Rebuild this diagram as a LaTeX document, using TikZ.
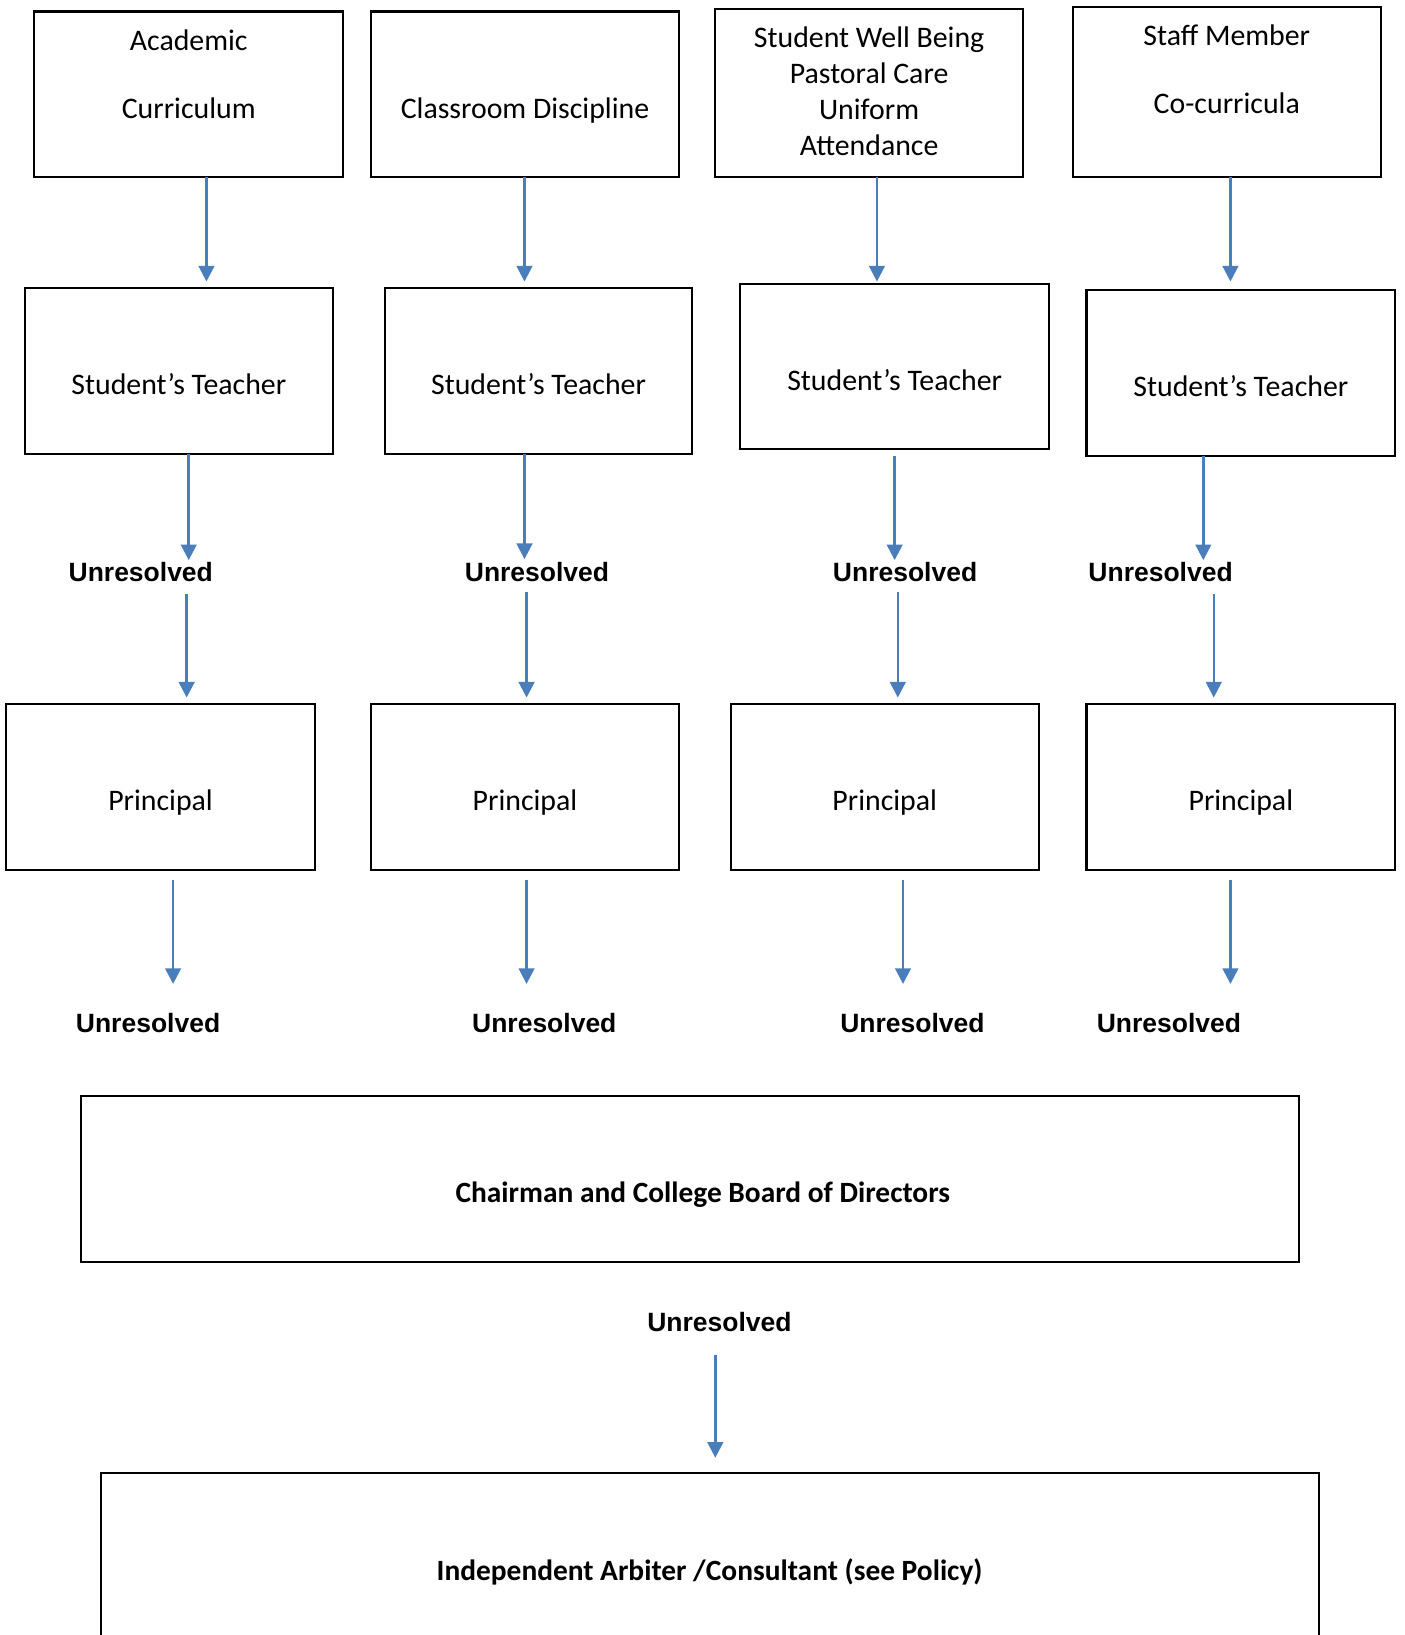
\documentclass[tikz,border=0pt]{standalone}
\usepackage{fontspec}
\setmainfont{Carlito}
\newfontfamily\arialfont{Liberation Sans}
\usetikzlibrary{arrows.meta}
\definecolor{arrowblue}{RGB}{74,126,187}
\newcommand\boxat[5]{\node[box, minimum width={(#4-#2)*0.5pt}, minimum height={(#5-#3)*0.5pt}] (#1) at ({(#2+#4)/2},{(#3+#5)/2}) {};}
\begin{document}
\begin{tikzpicture}[x=0.5pt,y=-0.5pt,
  box/.style={draw=black, line width=1pt, rectangle, inner sep=0pt, outer sep=0pt},
  txt/.style={font=\fontsize{14.3}{17}\selectfont, anchor=base, inner sep=0pt},
  btxt/.style={font=\fontsize{14.1}{17}\selectfont\bfseries, anchor=base, inner sep=0pt},
  unres/.style={font=\arialfont\bfseries\fontsize{12.7}{15}\selectfont, anchor=base, inner sep=0pt, text height=9pt, text depth=0pt},
  arr/.style={draw=arrowblue, line width=1.2pt, -{Triangle[width=7.5pt,length=7.5pt]}}]
\useasboundingbox (0,0) rectangle (1347,1568);
\clip (0,0) rectangle (1347,1568);

% row 1
\boxat{A}{33}{11}{329}{170}
\boxat{B}{356}{11}{651}{170}
\boxat{C}{686}{9}{981}{170}
\boxat{D}{1029}{7}{1324}{170}
\node[txt] (A1) at (181,48.5) {Academic};
\node[txt] (A2) at (181,114) {Curriculum};
\node[txt] (B1) at (503.5,114) {Classroom Discipline};
\node[txt] (C1) at (833.5,45.5) {Student Well Being};
\node[txt] (C2) at (833.5,80) {Pastoral Care};
\node[txt] (C3) at (833.5,114.5) {Uniform};
\node[txt] (C4) at (833.5,149.5) {Attendance};
\node[txt] (D1) at (1176.5,43.5) {Staff Member};
\node[txt] (D2) at (1176.5,109) {Co-curricula};

% row 2
\boxat{TA}{24}{276}{319}{435}
\boxat{TB}{369}{276}{664}{435}
\boxat{TC}{710}{272}{1006}{431}
\boxat{TD}{1042}{278}{1338}{437}
\node[txt] (TA1) at (171.5,378.4) {Student’s Teacher};
\node[txt] (TB1) at (516.5,378.4) {Student’s Teacher};
\node[txt] (TC1) at (858,374.5) {Student’s Teacher};
\node[txt] (TD1) at (1190,380.5) {Student’s Teacher};

% unresolved row a
\node[unres] (U1a) at (135,557.6) {Unresolved};
\node[unres] (U2a) at (515,557.6) {Unresolved};
\node[unres] (U3a) at (868,557.6) {Unresolved};
\node[unres] (U4a) at (1113,557.6) {Unresolved};

% row 3
\boxat{P1}{6}{675}{302}{834}
\boxat{P2}{356}{675}{651}{834}
\boxat{P3}{701}{675}{996}{834}
\boxat{P4}{1042}{675}{1338}{834}
\node[txt] (P1t) at (154,777.5) {Principal};
\node[txt] (P2t) at (503.5,777.5) {Principal};
\node[txt] (P3t) at (848.5,777.5) {Principal};
\node[txt] (P4t) at (1190,777.5) {Principal};

% unresolved row b
\node[unres] (U1b) at (142,990) {Unresolved};
\node[unres] (U2b) at (522,990) {Unresolved};
\node[unres] (U3b) at (875,990) {Unresolved};
\node[unres] (U4b) at (1121,990) {Unresolved};

% chairman
\boxat{CH}{78}{1051}{1246}{1210}
\node[btxt] (CHt) at (674,1153.5) {Chairman and College Board of Directors};
\node[unres] (U5) at (690,1277) {Unresolved};
\boxat{IA}{97}{1413}{1265}{1572}
\node[btxt] (IAt) at (680.5,1515.5) {Independent Arbiter /Consultant (see Policy)};

% arrow columns
\coordinate (k1a) at (198,0);  \coordinate (k1b) at (181,0);
\coordinate (k1c) at (179,0);  \coordinate (k1d) at (166,0);
\coordinate (k2a) at (503,0);  \coordinate (k2b) at (503,0);
\coordinate (k2c) at (505,0);  \coordinate (k2d) at (505,0);
\coordinate (k3a) at (841,0);  \coordinate (k3b) at (858,0);
\coordinate (k3c) at (861,0);  \coordinate (k3d) at (866,0);
\coordinate (k4a) at (1180,0); \coordinate (k4b) at (1154,0);
\coordinate (k4c) at (1164,0); \coordinate (k4d) at (1180,0);
\coordinate (k5) at (686,0);

% column 1
\draw[arr, shorten >=3pt] (A.south -| k1a) -- (TA.north -| k1a);
\draw[arr, shorten >=1pt] (TA.south -| k1b) -- (U1a.north -| k1b);
\draw[arr, shorten <=6pt, shorten >=3pt] (U1a.base -| k1c) -- (P1.north -| k1c);
\draw[arr, shorten <=5pt, shorten >=14pt] (P1.south -| k1d) -- (U1b.north -| k1d);
% column 2
\draw[arr, shorten >=3pt] (B.south -| k2a) -- (TB.north -| k2a);
\draw[arr, shorten >=1.5pt] (TB.south -| k2b) -- (U2a.north -| k2b);
\draw[arr, shorten <=5pt, shorten >=3pt] (U2a.base -| k2c) -- (P2.north -| k2c);
\draw[arr, shorten <=5pt, shorten >=14pt] (P2.south -| k2d) -- (U2b.north -| k2d);
% column 3
\draw[arr, shorten >=1pt] (C.south -| k3a) -- (TC.north -| k3a);
\draw[arr, shorten <=3pt, shorten >=1pt] (TC.south -| k3b) -- (U3a.north -| k3b);
\draw[arr, shorten <=5pt, shorten >=3pt] (U3a.base -| k3c) -- (P3.north -| k3c);
\draw[arr, shorten <=5pt, shorten >=14pt] (P3.south -| k3d) -- (U3b.north -| k3d);
% column 4
\draw[arr, shorten >=4pt] (D.south -| k4a) -- (TD.north -| k4a);
\draw[arr, shorten >=1pt] (TD.south -| k4b) -- (U4a.north -| k4b);
\draw[arr, shorten <=6pt, shorten >=3pt] (U4a.base -| k4c) -- (P4.north -| k4c);
\draw[arr, shorten <=5pt, shorten >=14pt] (P4.south -| k4d) -- (U4b.north -| k4d);
% bottom
\draw[arr, shorten <=11pt, shorten >=7.5pt] (U5.base -| k5) -- (IA.north -| k5);
\end{tikzpicture}
\end{document}
